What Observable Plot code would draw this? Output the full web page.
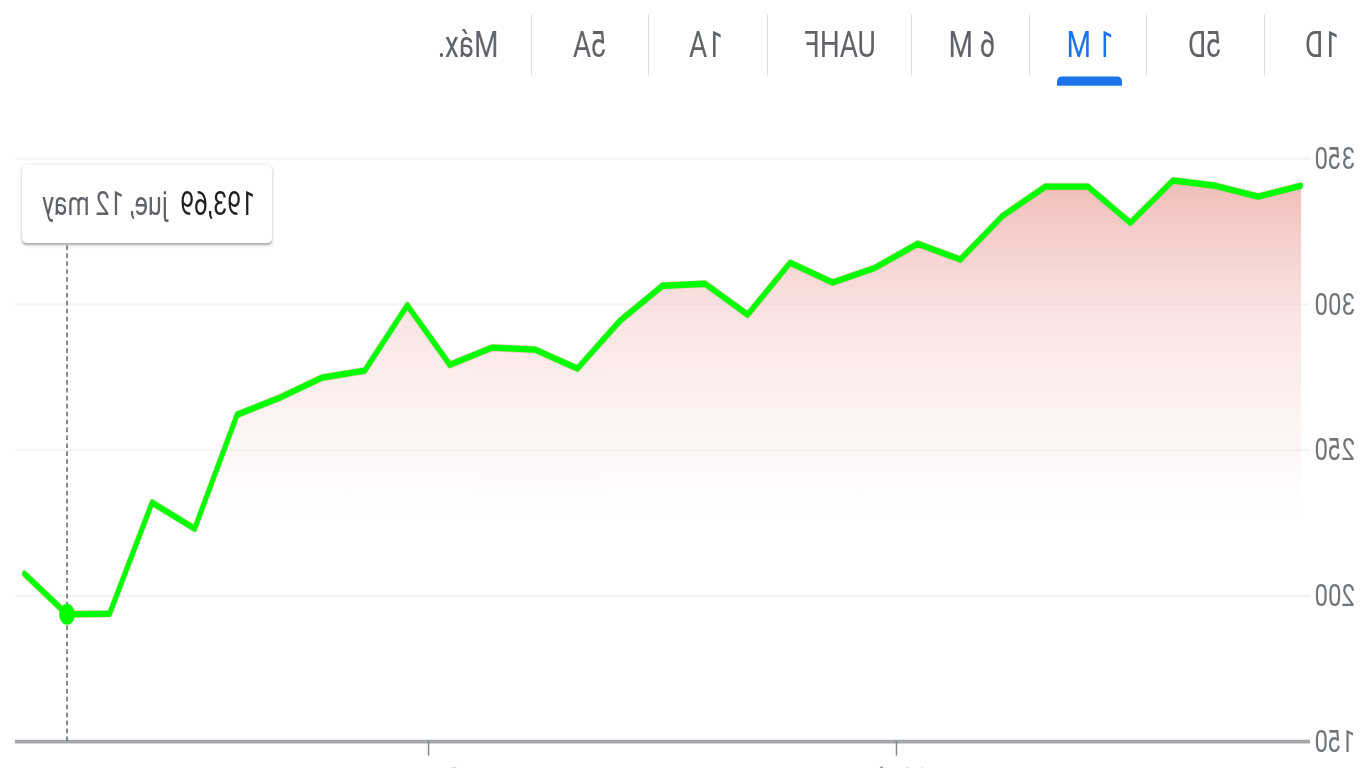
<!DOCTYPE html>
<html>
<head>
<meta charset="utf-8">
<script src="https://cdn.jsdelivr.net/npm/d3@7"></script>
<script src="https://cdn.jsdelivr.net/npm/@observablehq/plot@0.6"></script>
<style>
  html, body { margin: 0; padding: 0; background: #fff; overflow: hidden; }
  body { width: 1366px; height: 768px; }
  #page {
    position: absolute; left: 0; top: 0; width: 1366px; height: 582px;
    transform-origin: 683px 0; transform: scale(-1, 1.32);
    font-family: Roboto, "Noto Sans", sans-serif;
  }
  .tab { position: absolute; top: 34px; transform: translate(-50%, -50%); font-size: 28px; color: #5f6368; white-space: nowrap; }
  .tab.sel { color: #1a73e8; }
  .sep { position: absolute; top: 11px; width: 1px; height: 46px; background: #dadce0; }
  #underline { position: absolute; left: 244px; top: 57.5px; width: 65px; height: 7px; background: #1a73e8; border-radius: 4px 4px 0 0; }
  #chart { position: absolute; left: 0; top: 100px; }
  #tip {
    position: absolute; left: 1094px; top: 125px; width: 250px; height: 59px; box-sizing: border-box;
    background: #fff; border-radius: 4px; box-shadow: 0 1px 3px rgba(60,64,67,0.35), 0 1px 1px rgba(60,64,67,0.15);
    display: flex; align-items: center; padding-left: 17px; font-size: 25px; white-space: nowrap;
  }
  #tip .v { color: #202124; margin-right: 12px; }
  #tip .d { color: #5f6368; }
</style>
</head>
<body>
<div id="page">
  <div id="tabs"></div>
  <div id="underline"></div>
  <div id="chart"></div>
  <div id="tip"><span class="v"></span><span class="d"></span></div>
</div>
<script>
// ---- data ----
const tabLabels = ["1D", "5D", "1 M", "6 M", "UAHF", "1A", "5A", "Máx."];
const selectedTab = "1 M";
const dates = ["31 mar","1 abr","4 abr","5 abr","6 abr","7 abr","8 abr","11 abr","12 abr","13 abr",
  "14 abr","18 abr","19 abr","20 abr","21 abr","22 abr","25 abr","26 abr","27 abr","28 abr",
  "29 abr","2 may","3 may","4 may","5 may","6 may","9 may","10 may","11 may","jue, 12 may","13 may"];
const prices = [340.7, 337.0, 340.7, 342.5, 328.0, 340.4, 340.4, 330.4, 315.4, 320.8,
  312.6, 307.5, 314.3, 296.5, 307.1, 306.4, 294.4, 278.0, 284.5, 285.2,
  279.3, 299.7, 277.3, 274.9, 268.0, 262.2, 223.1, 232.0, 193.9, 193.69, 207.6];
const yTicks = [150, 200, 250, 300, 350];
const gridValues = [200, 250, 300, 350];
const xTickPos = [9.5, 20.5];
const xTickLabels = ["14 abr", "2 may"];
const hoverIndex = 29;

// ---- tabs ----
const tabCenters = [44, 161, 276, 394, 526, 660, 776, 898];
const sepX = [101, 219, 336, 454, 598, 717, 834];
const tabsEl = document.getElementById("tabs");
tabLabels.forEach((t, i) => {
  const d = document.createElement("div");
  d.className = "tab" + (t === selectedTab ? " sel" : "");
  d.style.left = tabCenters[i] + "px";
  d.textContent = t;
  tabsEl.appendChild(d);
});
sepX.forEach(x => {
  const s = document.createElement("div");
  s.className = "sep"; s.style.left = x + "px";
  tabsEl.appendChild(s);
});

// ---- tooltip ----
const fmt = v => v.toFixed(2).replace(".", ",");
document.querySelector("#tip .v").textContent = fmt(prices[hoverIndex]);
document.querySelector("#tip .d").textContent = dates[hoverIndex];

// ---- chart ----
const idx = d3.range(prices.length);
const defs = (index, scales) => {
  const g = d3.create("svg:defs");
  const lg = g.append("linearGradient").attr("id", "areaGrad")
    .attr("gradientUnits", "userSpaceOnUse")
    .attr("x1", 0).attr("x2", 0)
    .attr("y1", scales.y(350)).attr("y2", scales.y(226));
  lg.append("stop").attr("offset", 0).attr("stop-color", "rgb(239,178,172)").attr("stop-opacity", 0.95);
  lg.append("stop").attr("offset", 0.45).attr("stop-color", "rgb(241,190,186)").attr("stop-opacity", 0.4);
  lg.append("stop").attr("offset", 1).attr("stop-color", "rgb(245,205,202)").attr("stop-opacity", 0);
  return g.node();
};

const chart = Plot.plot({
  width: 1366,
  height: 482,
  marginLeft: 56,
  marginRight: 15,
  marginTop: 19.7,
  marginBottom: 20.6,
  x: { domain: [-0.21, 30.235], axis: null },
  y: { domain: [150, 350], axis: null },
  style: { fontFamily: "Roboto, 'Noto Sans', sans-serif", background: "transparent", overflow: "visible" },
  marks: [
    defs,
    Plot.ruleY(gridValues, { stroke: "#f3f4f5", strokeWidth: 1.5 }),
    Plot.areaY(idx, { x: i => i, y1: 150, y2: i => prices[i], fill: "url(#areaGrad)" }),
    Plot.line(idx, { x: i => i, y: i => prices[i], stroke: "#f4a9a2", strokeWidth: 5.8, strokeOpacity: 0.6 }),
    Plot.line(idx, { x: i => i, y: i => prices[i], stroke: "#00ff00", strokeWidth: 4.8 }),
    Plot.ruleY([150], { stroke: "#a3a7ab", strokeWidth: 2.8 }),
    Plot.axisY({ ticks: yTicks, anchor: "left", tickSize: 0, tickPadding: 5, fontSize: 24, fill: "#70757a", textAnchor: "end" }),
    Plot.axisX({ ticks: xTickPos, anchor: "bottom", tickSize: 11, tickPadding: 8, stroke: "#80868b", strokeWidth: 1.5,
      tickFormat: (d, i) => xTickLabels[i], fontSize: 24, fill: "#70757a" }),
    Plot.ruleX([hoverIndex], { y1: 150, y2: 345, stroke: "#5f6368", strokeWidth: 1.5, strokeDasharray: "3.5,2.5" }),
    Plot.dot([hoverIndex], { x: i => i, y: i => prices[i], r: 8, fill: "#00ff00", stroke: "none" })
  ]
});
document.getElementById("chart").appendChild(chart);
</script>
</body>
</html>
